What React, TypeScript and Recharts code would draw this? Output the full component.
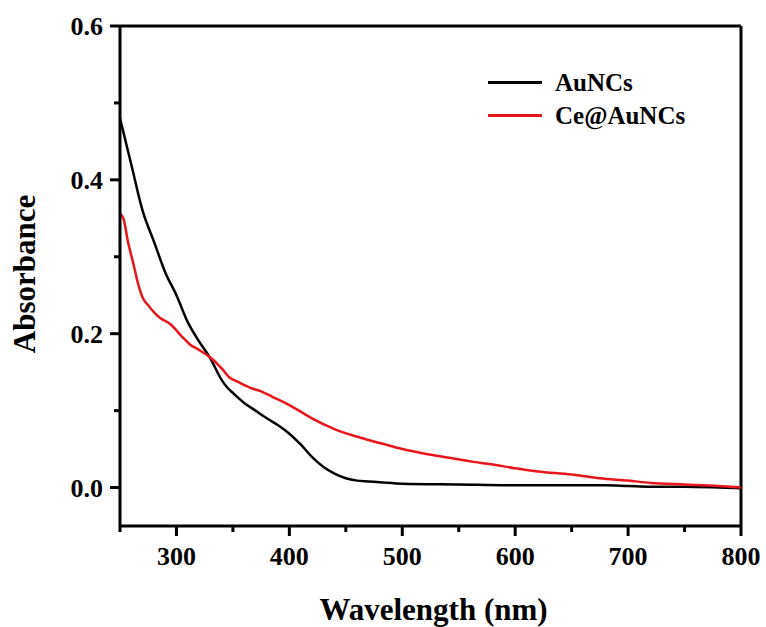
import { LineChart, Line, XAxis, YAxis, Legend, ReferenceLine } from 'recharts'

const auWave = [250, 255, 260, 270, 280, 290, 300, 310, 320, 330, 340, 345, 350, 360, 370, 380, 390, 400, 410, 420, 430, 440, 450, 460, 470, 480, 500, 550, 600, 650, 680, 700, 720, 750, 780, 800]
const auAbs = [0.48, 0.45, 0.42, 0.36, 0.32, 0.28, 0.25, 0.215, 0.19, 0.168, 0.14, 0.13, 0.123, 0.11, 0.1, 0.09, 0.081, 0.07, 0.056, 0.04, 0.027, 0.018, 0.012, 0.009, 0.008, 0.007, 0.005, 0.004, 0.003, 0.003, 0.003, 0.002, 0.001, 0.001, 0.0, -0.001]

const ceWave = [250, 253, 257, 262, 266, 270, 275, 280, 285, 295, 305, 312, 320, 330, 340, 347, 355, 365, 375, 385, 395, 405, 420, 440, 460, 480, 500, 520, 540, 560, 580, 600, 620, 650, 675, 700, 720, 750, 780, 800]
const ceAbs = [0.356, 0.35, 0.32, 0.29, 0.265, 0.247, 0.237, 0.228, 0.221, 0.212, 0.196, 0.186, 0.179, 0.169, 0.155, 0.143, 0.137, 0.13, 0.125, 0.118, 0.111, 0.103, 0.09, 0.076, 0.066, 0.058, 0.05, 0.044, 0.039, 0.034, 0.03, 0.025, 0.021, 0.017, 0.012, 0.009, 0.006, 0.004, 0.002, 0.0]

const xTicks = [250, 300, 350, 400, 450, 500, 550, 600, 650, 700, 750, 800]
const xMajor = [300, 400, 500, 600, 700, 800]
const yTicks = [0, 0.1, 0.2, 0.3, 0.4, 0.5, 0.6]
const yMajor = [0, 0.2, 0.4, 0.6]

const series = [
  { name: 'AuNCs', color: '#000000', data: auWave.map((w, i) => ({ w, a: auAbs[i] })) },
  { name: 'Ce@AuNCs', color: '#e8161b', data: ceWave.map((w, i) => ({ w, a: ceAbs[i] })) },
]

const FONT = '"Liberation Serif", "Times New Roman", serif'

const XTick = ({ x, y, payload }: any) => {
  const major = xMajor.includes(payload.value)
  return (
    <g>
      <line x1={x} x2={x} y1={y} y2={y + (major ? 10 : 6)} stroke="#000" strokeWidth={3} />
      {major && (
        <text x={x} y={y + 39} textAnchor="middle" fontFamily={FONT} fontWeight="bold" fontSize={26} fill="#000">
          {payload.value}
        </text>
      )}
    </g>
  )
}

const YTick = ({ x, y, payload }: any) => {
  const major = yMajor.some(v => Math.abs(v - payload.value) < 1e-9)
  return (
    <g>
      <line x1={x} x2={x - (major ? 10 : 6)} y1={y} y2={y} stroke="#000" strokeWidth={3} />
      {major && (
        <text x={x - 17} y={y + 9} textAnchor="end" fontFamily={FONT} fontWeight="bold" fontSize={26} fill="#000">
          {payload.value.toFixed(1)}
        </text>
      )}
    </g>
  )
}

const LegendContent = () => (
  <div style={{ fontFamily: FONT, fontWeight: 'bold', fontSize: 25 }}>
    {series.map(s => (
      <div key={s.name} style={{ display: 'flex', alignItems: 'center', height: 33 }}>
        <div style={{ width: 54, height: 3, background: s.color, marginRight: 13 }} />
        <span>{s.name}</span>
      </div>
    ))}
  </div>
)

export default function App() {
  return (
    <div style={{ position: 'absolute', left: 0, top: 0, background: '#fff' }}>
      <LineChart width={766} height={627} margin={{ top: 26, right: 25, bottom: 41, left: 20 }}>
        <XAxis
          dataKey="w" type="number" domain={[250, 800]} ticks={xTicks} allowDataOverflow
          height={60} tickSize={0} tickMargin={0} tickLine={false}
          axisLine={{ stroke: '#000', strokeWidth: 3 }}
          tick={<XTick />} interval={0}
          label={(p: any) => {
            const vb = p.viewBox
            return (
              <text x={vb.x + vb.width / 2 + 3} y={620} textAnchor="middle" fontFamily={FONT} fontWeight="bold" fontSize={31} fill="#000">
                Wavelength (nm)
              </text>
            )
          }}
        />
        <YAxis
          dataKey="a" type="number" domain={[-0.05, 0.6]} ticks={yTicks} allowDataOverflow
          width={100} tickSize={0} tickMargin={0} tickLine={false}
          axisLine={{ stroke: '#000', strokeWidth: 3 }}
          tick={<YTick />} interval={0}
          label={(p: any) => {
            const vb = p.viewBox
            const cy = vb.y + vb.height / 2 - 2
            return (
              <text x={35} y={cy} transform={`rotate(-90 35 ${cy})`} textAnchor="middle" fontFamily={FONT} fontWeight="bold" fontSize={31} fill="#000">
                Absorbance
              </text>
            )
          }}
        />
        <ReferenceLine y={0.6} stroke="#000" strokeWidth={3} />
        <ReferenceLine x={800} stroke="#000" strokeWidth={3} />
        <Legend
          content={<LegendContent />}
          layout="vertical" verticalAlign="middle" align="center"
          wrapperStyle={{ left: 488, top: 66, width: 220 }}
        />
        {series.map(s => (
          <Line
            key={s.name} data={s.data} dataKey="a" name={s.name} type="monotone"
            stroke={s.color} strokeWidth={2.5} dot={false} isAnimationActive={false}
          />
        ))}
      </LineChart>
    </div>
  )
}
